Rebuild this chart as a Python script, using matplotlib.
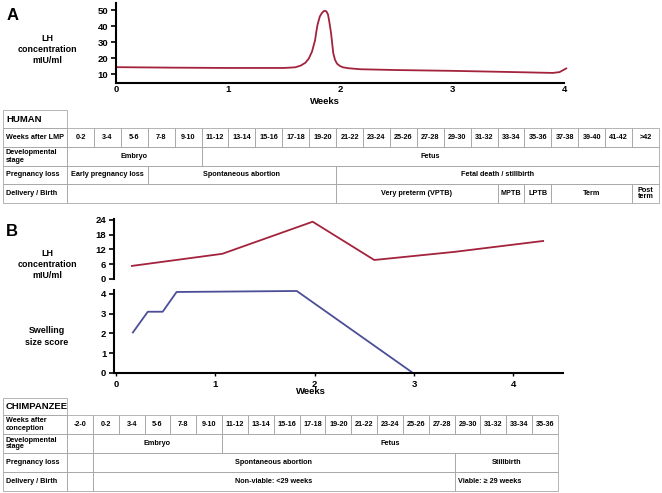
import matplotlib.pyplot as plt
from matplotlib.patches import Rectangle

plt.rcParams['font.family'] = ['Liberation Sans', 'DejaVu Sans']
plt.rcParams['font.weight'] = 'bold'

W, H = 662, 493

# panel A - human LH over the cycle
human_weeks = [0, 0.5, 1.0, 1.5, 1.6, 1.65, 1.69, 1.72, 1.75, 1.777, 1.79, 1.80, 1.82,
               1.84, 1.855, 1.866, 1.878, 1.893, 1.905, 1.92, 1.94, 1.955, 1.973, 2.0,
               2.027, 2.08, 2.18, 2.5, 3.0, 3.5, 3.9, 3.96, 4.02]
human_lh = [14.3, 14.0, 13.8, 13.8, 14.2, 15.3, 17, 19.5, 24, 31, 37, 41, 46,
            48.3, 49.3, 49.5, 49.2, 47.2, 42.5, 35.6, 23, 19, 16.5, 15,
            14.2, 13.6, 13, 12.5, 12, 11.3, 10.7, 11.2, 13.5]

# panel B - chimpanzee LH and swelling
chimp_lh_weeks = [0.16, 1.07, 1.98, 2.6, 3.41, 4.3]
chimp_lh = [5.3, 10.2, 23.2, 7.7, 11.0, 15.4]
swell_weeks = [0.17, 0.32, 0.47, 0.61, 1.82, 2.99]
swell_score = [2.05, 3.1, 3.1, 4.1, 4.15, 0]

# tables
human_cols = ['0-2', '3-4', '5-6', '7-8', '9-10', '11-12', '13-14', '15-16', '17-18',
              '19-20', '21-22', '23-24', '25-26', '27-28', '29-30', '31-32', '33-34',
              '35-36', '37-38', '39-40', '41-42', '>42']
human_dev = [(0, 5, 'Embryo'), (5, 22, 'Fetus')]
human_loss = [(0, 3, 'Early pregnancy loss'), (3, 10, 'Spontaneous abortion'),
              (10, 22, 'Fetal death / stillbirth')]
human_birth = [(0, 10, ''), (10, 16, 'Very preterm (VPTB)'), (16, 17, 'MPTB'),
               (17, 18, 'LPTB'), (18, 21, 'Term'), (21, 22, 'Post\nterm')]

chimp_cols = ['-2-0', '0-2', '3-4', '5-6', '7-8', '9-10', '11-12', '13-14', '15-16',
              '17-18', '19-20', '21-22', '23-24', '25-26', '27-28', '29-30', '31-32',
              '33-34', '35-36']
chimp_dev = [(0, 1, ''), (1, 6, 'Embryo'), (6, 19, 'Fetus')]
chimp_loss = [(0, 1, ''), (1, 15, 'Spontaneous abortion'), (15, 19, 'Stillbirth')]
chimp_birth = [(0, 1, ''), (1, 15, 'Non-viable: <29 weeks'), (15, 19, 'Viable: \u2265 29 weeks')]

red = '#a3223c'
blue = '#4b4e96'
grid = '#a8a8a8'


def px_axes(l, t, r, b):
    return fig.add_axes([l / W, 1 - b / H, (r - l) / W, (b - t) / H])


fig = plt.figure(figsize=(W / 100, H / 100), dpi=100)

# background axes in pixel coords for labels and tables
bg = fig.add_axes([0, 0, 1, 1])
bg.set_xlim(0, W)
bg.set_ylim(H, 0)
bg.axis('off')


def style(ax, xaxis=True):
    for s in ['top', 'right']:
        ax.spines[s].set_visible(False)
    ax.spines['left'].set_linewidth(1.5)
    ax.spines['bottom'].set_linewidth(1.5)
    ax.tick_params(axis='y', length=3.5, width=1.2, labelsize=6.8, pad=2)
    ax.tick_params(axis='x', length=2, width=1.0, labelsize=6.8, pad=3)
    ax.patch.set_alpha(0)
    if not xaxis:
        ax.spines['bottom'].set_visible(False)
        ax.set_xticks([])


# ---- A ----
axA = px_axes(116, 3, 564, 83)
axA.plot(human_weeks, human_lh, color=red, lw=1.3, clip_on=False)
axA.set_xlim(0, 4)
axA.set_ylim(4.4, 54.4)
axA.set_yticks([10, 20, 30, 40, 50])
axA.set_xticks([0, 1, 2, 3, 4])
style(axA)
axA.tick_params(axis='x', length=0, pad=1.5)

bg.text(13, 15, 'A', fontsize=12, ha='center', va='center')
bg.text(47, 49.5, 'LH\nconcentration\nmIU/ml', fontsize=6.4, ha='center', va='center',
        linespacing=1.35)
bg.text(325, 101, 'Weeks', fontsize=6.8, ha='center', va='center')

# ---- B ----
xl = (-0.02, 4.5)
axB1 = px_axes(114, 219, 563, 279)
axB1.plot(chimp_lh_weeks, chimp_lh, color=red, lw=1.3)
axB1.set_xlim(*xl)
axB1.set_ylim(0, 24.3)
axB1.set_yticks([0, 6, 12, 18, 24])
style(axB1, xaxis=False)

axB2 = px_axes(114, 290, 563, 373)
axB2.plot(swell_weeks, swell_score, color=blue, lw=1.3, clip_on=False)
axB2.set_xlim(*xl)
axB2.set_ylim(0, 4.2)
axB2.set_yticks([0, 1, 2, 3, 4])
axB2.set_xticks([0, 1, 2, 3, 4])
style(axB2)

bg.text(12, 232, 'B', fontsize=12, ha='center', va='center')
bg.text(47, 264.5, 'LH\nconcentration\nmIU/ml', fontsize=6.4, ha='center', va='center',
        linespacing=1.35)
bg.text(47, 336.5, 'Swelling\nsize score', fontsize=6.4, ha='center', va='center',
        linespacing=1.35)
bg.text(311, 392, 'Weeks', fontsize=6.8, ha='center', va='center')


def cell(x, y, w, h, txt='', ha='center', size=5.2):
    bg.add_patch(Rectangle((x, y), w, h, fill=False, ec=grid, lw=0.6))
    if txt:
        tx = x + w / 2 if ha == 'center' else x + 3
        bg.text(tx, y + h / 2, txt, fontsize=size, ha=ha, va='center',
                linespacing=1.0)


def draw_table(title, cols, rows, x0, x1, x_end, ys):
    cw = (x_end - x1) / len(cols)
    cell(x0, ys[0], x1 - x0, ys[1] - ys[0])
    bg.text(x0 + 3, (ys[0] + ys[1]) / 2, title, fontsize=6.8, ha='left', va='center')
    for i, (label, spans) in enumerate(rows):
        top, bot = ys[i + 1], ys[i + 2]
        cell(x0, top, x1 - x0, bot - top)
        bg.text(x0 + 3, (top + bot) / 2, label, fontsize=5.2, ha='left', va='center',
                linespacing=1.0)
        for a, b, txt in spans:
            ha = 'left' if txt.startswith('Viable') else 'center'
            cell(x1 + a * cw, top, (b - a) * cw, bot - top, txt, ha)


human_week_spans = [(k, k + 1, c) for k, c in enumerate(human_cols)]
draw_table('HUMAN', human_cols,
           [('Weeks after LMP', human_week_spans),
            ('Developmental\nstage', human_dev),
            ('Pregnancy loss', human_loss),
            ('Delivery / Birth', human_birth)],
           3, 67, 659, [110, 128, 147, 166, 184, 203])

chimp_week_spans = [(k, k + 1, c) for k, c in enumerate(chimp_cols)]
draw_table('CHIMPANZEE', chimp_cols,
           [('Weeks after\nconception', chimp_week_spans),
            ('Developmental\nstage', chimp_dev),
            ('Pregnancy loss', chimp_loss),
            ('Delivery / Birth', chimp_birth)],
           3, 67, 558, [398, 415, 434, 453, 472, 491])

fig.savefig('out.png', dpi=100)
